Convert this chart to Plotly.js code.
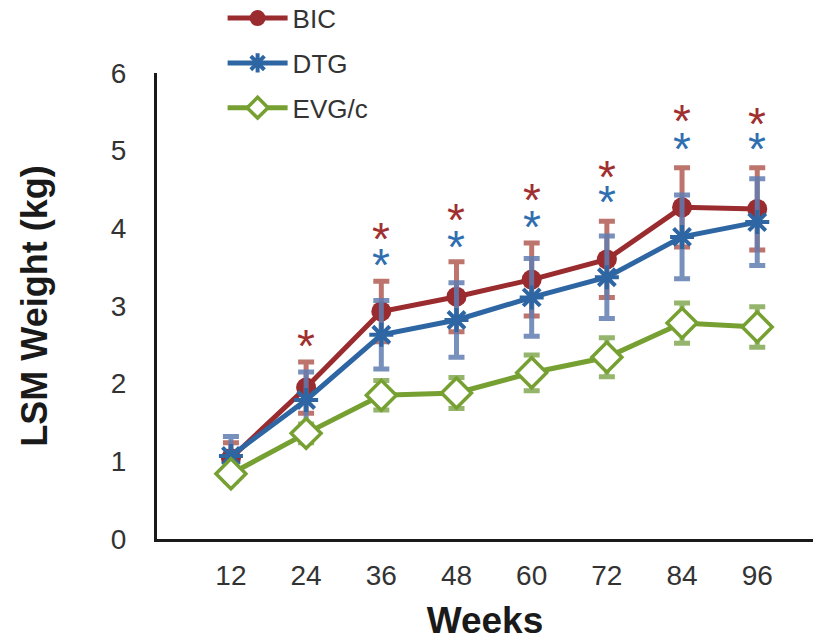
<!DOCTYPE html>
<html>
<head>
<meta charset="utf-8">
<script src="https://cdn.plot.ly/plotly-3.0.1.min.js"></script>
<style>html,body{margin:0;padding:0;background:#fff;}#chart{width:813px;height:641px;}</style>
</head>
<body>
<div id="chart"></div>
<script>
// ---- data ----
const weeks = [12, 24, 36, 48, 60, 72, 84, 96];
const tickLabels = ["12", "24", "36", "48", "60", "72", "84", "96"];

const bicMean = [1.04, 1.95, 2.93, 3.12, 3.34, 3.60, 4.27, 4.25];
const bicErr  = [0.20, 0.33, 0.39, 0.45, 0.47, 0.49, 0.51, 0.53];

const dtgMean = [1.07, 1.79, 2.63, 2.82, 3.11, 3.37, 3.89, 4.08];
const dtgErr  = [0.25, 0.36, 0.44, 0.48, 0.50, 0.53, 0.54, 0.56];

const evgMean = [0.84, 1.36, 1.85, 1.88, 2.14, 2.34, 2.78, 2.73];
const evgErr  = [0.10, 0.12, 0.19, 0.20, 0.23, 0.25, 0.26, 0.26];

// significance asterisk heights (kg) — null where absent
const sigBic = [null, 2.59, 3.96, 4.21, 4.47, 4.77, 5.48, 5.44];
const sigDtg = [null, null, 3.63, 3.86, 4.12, 4.44, 5.13, 5.12];

// ---- styling ----
const FONT = "Arial, 'Liberation Sans', sans-serif";
const cBic = "#9a2b2e", cBicErr = "rgba(176,92,84,0.85)";
const cDtg = "#2e66a3", cDtgErr = "rgba(96,124,176,0.85)";
const cEvg = "#76a032", cEvgErr = "rgba(130,168,84,0.85)";

const traces = [
  {
    x: weeks, y: bicMean, name: "BIC", legendgroup: "a", type: "scatter", mode: "lines+markers",
    line: {color: cBic, width: 5},
    marker: {symbol: "circle", size: 20, color: cBic},
    error_y: {type: "data", array: bicErr, visible: true, color: cBicErr, thickness: 5, width: 8}
  },
  {
    x: weeks, y: dtgMean, name: "DTG", legendgroup: "b", type: "scatter", mode: "lines+markers",
    line: {color: cDtg, width: 5},
    marker: {symbol: "asterisk-open", size: 20, color: cDtg, line: {color: cDtg, width: 4}},
    error_y: {type: "data", array: dtgErr, visible: true, color: cDtgErr, thickness: 5, width: 8}
  },
  {
    x: weeks, y: evgMean, name: "EVG/c", legendgroup: "c", type: "scatter", mode: "lines+markers",
    line: {color: cEvg, width: 5},
    marker: {symbol: "diamond", size: 23, color: "#ffffff", line: {color: cEvg, width: 3.5}},
    error_y: {type: "data", array: evgErr, visible: true, color: cEvgErr, thickness: 5, width: 8}
  }
];

const annotations = [];
weeks.forEach((w, i) => {
  if (sigBic[i] !== null) annotations.push({x: w, y: sigBic[i], xref: "x", yref: "y", text: "*", showarrow: false,
    font: {family: FONT, size: 46, color: "#a0302f"}, yshift: -8});
  if (sigDtg[i] !== null) annotations.push({x: w, y: sigDtg[i], xref: "x", yref: "y", text: "*", showarrow: false,
    font: {family: FONT, size: 46, color: "#2f6fb0"}, yshift: -8});
});

const layout = {
  width: 813, height: 641,
  margin: {l: 157, r: 0, t: 73, b: 102, autoexpand: false},
  paper_bgcolor: "#ffffff", plot_bgcolor: "#ffffff",
  font: {family: FONT, color: "#333333", size: 25},
  showlegend: true,
  legend: {
    x: 0.1, y: 1.168, xanchor: "left", yanchor: "top", xref: "paper", yref: "paper",
    font: {family: FONT, size: 26, color: "#333333"},
    itemwidth: 60, tracegroupgap: 8, bgcolor: "rgba(0,0,0,0)"
  },
  xaxis: {
    range: [0.2, 104.9], tickmode: "array", tickvals: weeks, ticktext: tickLabels,
    showgrid: false, zeroline: false, showline: true, linecolor: "#1a1a1a", linewidth: 3,
    ticks: "", ticklabelstandoff: 9, automargin: false,
    tickfont: {family: FONT, size: 28, color: "#333333"},
    title: {text: "<b>Weeks</b>", font: {family: FONT, size: 37, color: "#1a1a1a"}, standoff: 22}
  },
  yaxis: {
    range: [0, 6], tickvals: [0, 1, 2, 3, 4, 5, 6],
    showgrid: false, zeroline: false, showline: true, linecolor: "#1a1a1a", linewidth: 3,
    ticks: "", ticklabelstandoff: 22, automargin: false,
    tickfont: {family: FONT, size: 28, color: "#333333"},
    title: {text: "<b>LSM Weight (kg)</b>", font: {family: FONT, size: 36, color: "#1a1a1a"}, standoff: 53}
  },
  annotations: annotations
};

Plotly.newPlot("chart", traces, layout, {displayModeBar: false, staticPlot: true});
</script>
</body>
</html>
